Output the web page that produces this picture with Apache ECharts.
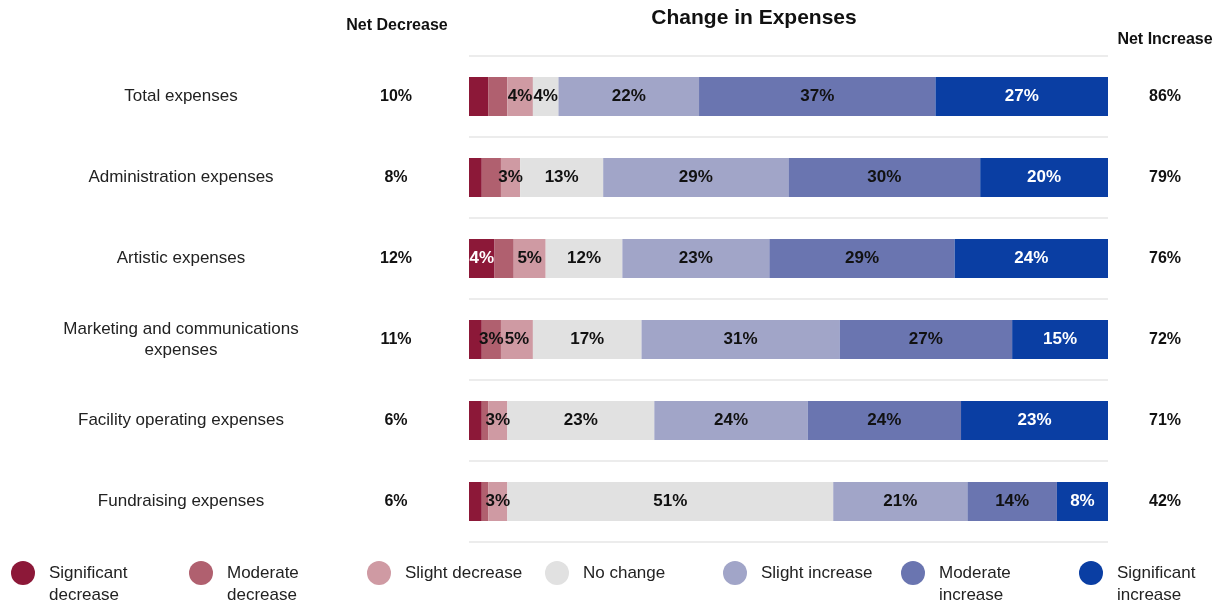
<!DOCTYPE html>
<html>
<head>
<meta charset="utf-8">
<script src="https://cdn.jsdelivr.net/npm/echarts@6/dist/echarts.min.js"></script>
<style>
  html, body { margin: 0; padding: 0; background: #ffffff; }
  #chart { width: 1221px; height: 605px; }
</style>
</head>
<body>
<div id="chart"></div>
<script>
// Expense categories, top to bottom
const categories = [
  'Total expenses',
  'Administration expenses',
  'Artistic expenses',
  'Marketing and communications\nexpenses',
  'Facility operating expenses',
  'Fundraising expenses'
];

// Response shares (%) per category
const significantDecrease = [3, 2, 4, 2, 2, 2];
const moderateDecrease    = [3, 3, 3, 3, 1, 1];
const slightDecrease      = [4, 3, 5, 5, 3, 3];
const noChange            = [4, 13, 12, 17, 23, 51];
const slightIncrease      = [22, 29, 23, 31, 24, 21];
const moderateIncrease    = [37, 30, 29, 27, 24, 14];
const significantIncrease = [27, 20, 24, 15, 23, 8];

// Summary columns (%)
const netDecrease = [10, 8, 12, 11, 6, 6];
const netIncrease = [86, 79, 76, 72, 71, 42];

// Segments whose value label is left off: [series index, category index]
const unlabeled = [[0, 0], [1, 0], [0, 1], [1, 1], [1, 2], [0, 3], [0, 4], [1, 4], [0, 5], [1, 5]];

const seriesDefs = [
  { name: 'Significant\ndecrease', values: significantDecrease, color: '#8c1838', text: '#ffffff' },
  { name: 'Moderate\ndecrease',    values: moderateDecrease,    color: '#b0606f', text: '#111111' },
  { name: 'Slight decrease',       values: slightDecrease,      color: '#cf9aa3', text: '#111111' },
  { name: 'No change',             values: noChange,            color: '#e1e1e1', text: '#111111' },
  { name: 'Slight increase',       values: slightIncrease,      color: '#a1a5c8', text: '#111111' },
  { name: 'Moderate\nincrease',    values: moderateIncrease,    color: '#6a75b0', text: '#111111' },
  { name: 'Significant\nincrease', values: significantIncrease, color: '#0a3ea3', text: '#ffffff' }
];

const FONT = '"Liberation Sans", Arial, sans-serif';

const series = seriesDefs.map((d, si) => ({
  name: d.name,
  type: 'bar',
  stack: 'total',
  barWidth: 39,
  itemStyle: { color: d.color },
  label: {
    show: true,
    position: 'inside',
    formatter: '{c}%',
    color: d.text,
    fontFamily: FONT,
    fontWeight: 'bold',
    fontSize: 17
  },
  emphasis: { disabled: true },
  data: d.values.map((v, ci) => {
    const hide = unlabeled.some(p => p[0] === si && p[1] === ci);
    return hide ? { value: v, label: { show: false } } : { value: v };
  })
}));

const chart = echarts.init(document.getElementById('chart'), null, { renderer: 'canvas' });

chart.setOption({
  animation: false,
  backgroundColor: '#ffffff',
  grid: { left: 469, right: 113, top: 56, bottom: 63 },
  xAxis: { type: 'value', min: 0, max: 100, show: false },
  yAxis: [
    {
      type: 'category',
      data: categories,
      inverse: true,
      axisLine: { show: false },
      axisTick: { show: false },
      splitLine: { show: true, lineStyle: { color: '#e6e6e6', width: 1.5 } },
      axisLabel: {
        align: 'center',
        margin: 288,
        fontFamily: FONT,
        fontSize: 17,
        lineHeight: 21,
        color: '#222222'
      }
    },
    {
      type: 'category',
      data: categories,
      inverse: true,
      position: 'left',
      axisLine: { show: false },
      axisTick: { show: false },
      splitLine: { show: false },
      axisLabel: {
        align: 'center',
        margin: 73,
        fontFamily: FONT,
        fontWeight: 'bold',
        fontSize: 16,
        color: '#111111',
        formatter: (v, i) => netDecrease[i] + '%'
      }
    },
    {
      type: 'category',
      data: categories,
      inverse: true,
      position: 'right',
      axisLine: { show: false },
      axisTick: { show: false },
      splitLine: { show: false },
      axisLabel: {
        align: 'center',
        margin: 57,
        fontFamily: FONT,
        fontWeight: 'bold',
        fontSize: 16,
        color: '#111111',
        formatter: (v, i) => netIncrease[i] + '%'
      }
    }
  ],
  legend: {
    left: 11,
    top: 540,
    padding: 0,
    orient: 'horizontal',
    icon: 'circle',
    itemWidth: 24,
    itemHeight: 24,
    itemGap: 20,
    selectedMode: false,
    // two-line names get a blank leading line so their first line sits level with the dot
    formatter: name => (name.indexOf('\n') >= 0 ? '\n' + name : name),
    textStyle: {
      fontFamily: FONT,
      fontSize: 17,
      lineHeight: 22,
      color: '#222222',
      width: 120,
      padding: [0, 0, 0, 9]
    },
    data: seriesDefs.map((d, i) => (i === seriesDefs.length - 1
      ? { name: d.name, textStyle: { width: 100 } }
      : { name: d.name }))
  },
  graphic: [
    {
      type: 'text', x: 754, y: 18,
      style: { text: 'Change in Expenses', align: 'center', verticalAlign: 'middle',
               font: 'bold 21px ' + FONT, fill: '#111111' }
    },
    {
      type: 'text', x: 397, y: 26,
      style: { text: 'Net Decrease', align: 'center', verticalAlign: 'middle',
               font: 'bold 16px ' + FONT, fill: '#111111' }
    },
    {
      type: 'text', x: 1165, y: 40,
      style: { text: 'Net Increase', align: 'center', verticalAlign: 'middle',
               font: 'bold 16px ' + FONT, fill: '#111111' }
    }
  ],
  series: series
});
</script>
</body>
</html>
